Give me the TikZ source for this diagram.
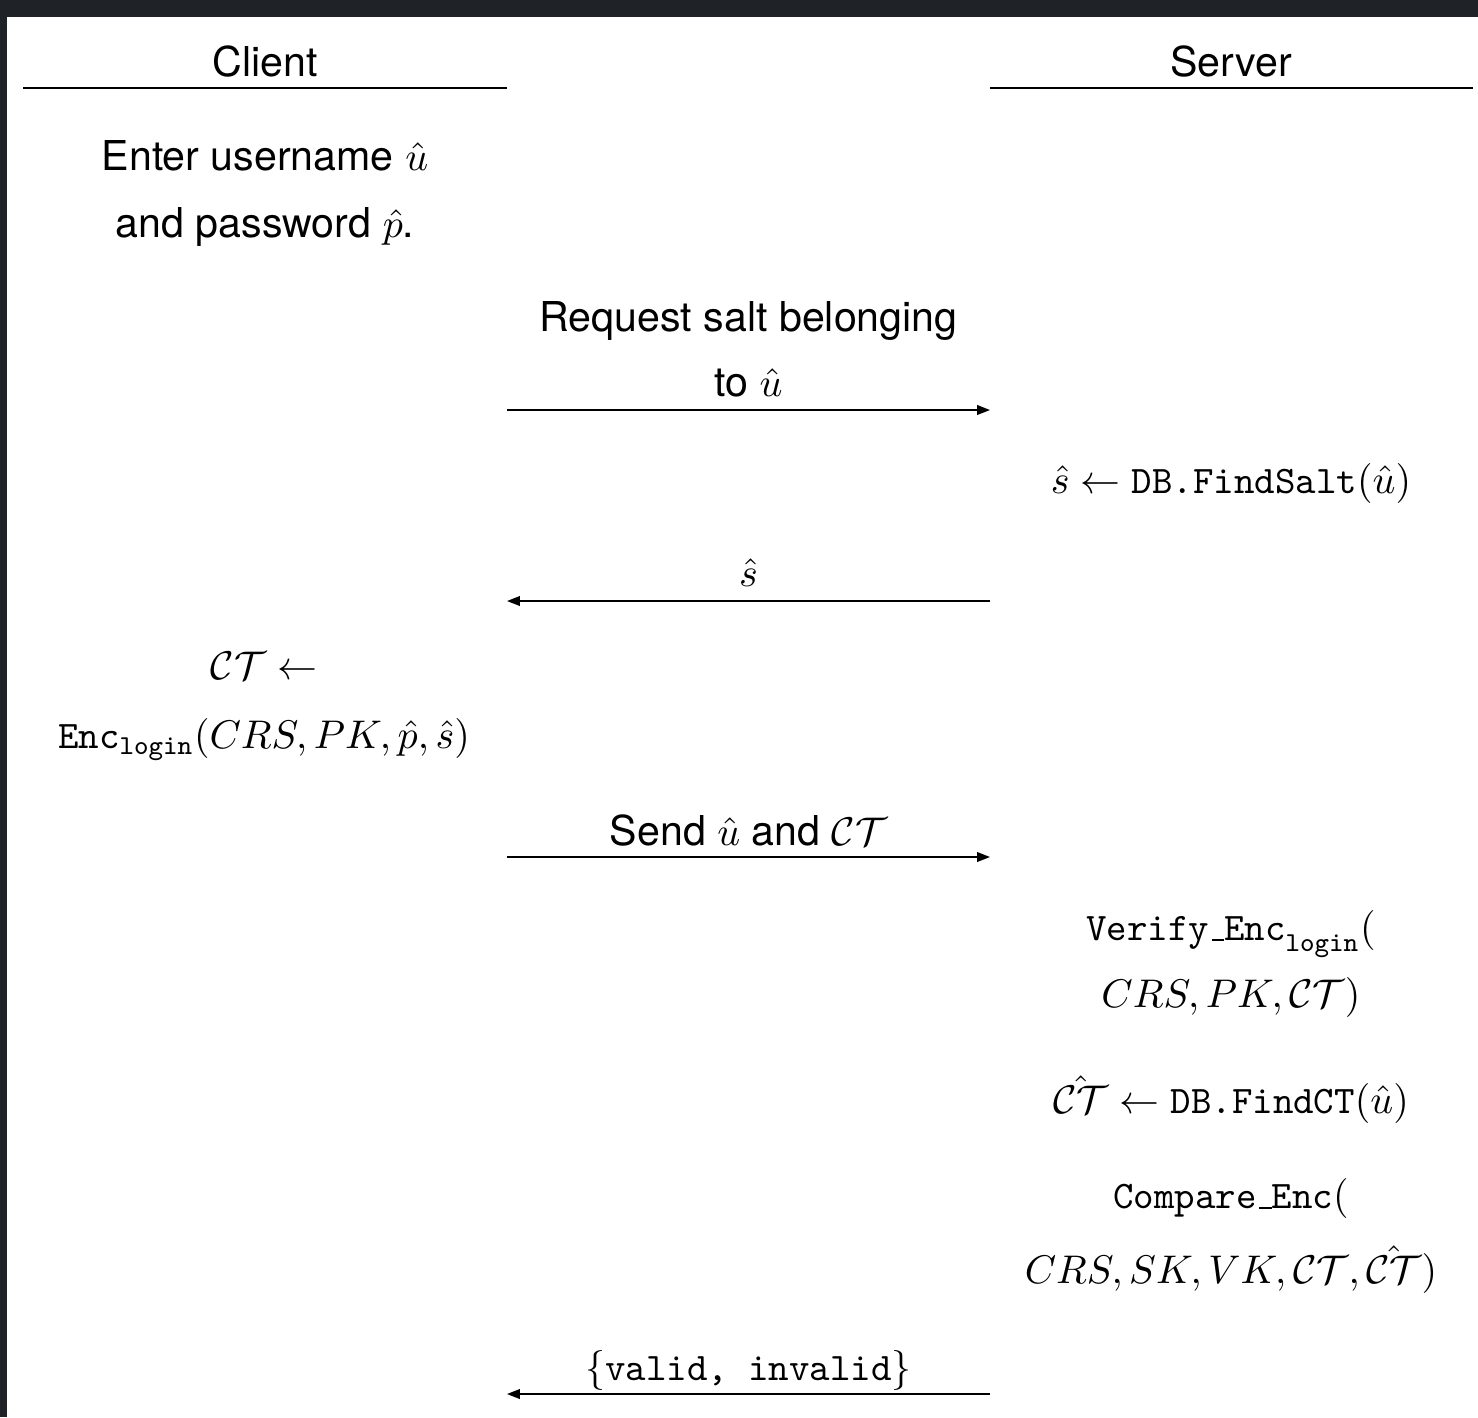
\documentclass[tikz,border=0pt]{standalone}
\usepackage{fontspec}
\setmainfont{TeX Gyre Heros}[Scale=1.055]
\usetikzlibrary{arrows.meta}
\definecolor{pageframe}{HTML}{1F2328}
\newcommand{\cipher}{\mathcal{CT}}
\newcommand{\hatcipher}{\hat{\mathcal{CT}}}
\newcommand{\lowbar}{\kern.06em\vbox{\hrule width.3em}}

\begin{document}
\begin{tikzpicture}[x=0.25pt, y=-0.25pt, thin,
  >={Triangle[length=3.2pt,width=2.4pt]},
  step node/.style={align=center, inner sep=0pt, font=\fontsize{9.75}{16.75}\selectfont},
  msg label/.style={above, inner sep=2.4pt, align=center, font=\fontsize{9.75}{16.25}\selectfont}]
% page with the dark frame at top and left
\fill[pageframe] (0,0) rectangle (1478,1417);
\fill[white] (7,17) rectangle (1478,1417);
\useasboundingbox (0,0) rectangle (1478,1417);
\begin{scope}[every node/.style={step node}]
\node (client) at (265,61) {Client};
\node (server) at (1231,61) {Server};
\node (enter) at (265,193) {Enter username $\hat{u}$\\and password $\hat{p}$.};
\node (findsalt) at (1231,483) {$\hat{s} \leftarrow \texttt{DB.FindSalt}(\hat{u})$};
\node (encrypt) at (264,706) {$\cipher \leftarrow$\\[0.5pt]$\mathtt{Enc}_{\mathtt{login}}(CRS, PK, \hat{p}, \hat{s})$};
\node (verify) at (1231,964) {$\mathtt{Verify\lowbar Enc}_{\mathtt{login}}($\\$CRS, PK, \cipher)$};
\node (findct) at (1231,1100) {$\hatcipher \leftarrow \texttt{DB.FindCT}(\hat{u})$};
\node (compare) at (1231,1236) {$\mathtt{Compare\lowbar Enc}($\\[1.8pt]$CRS, SK, VK, \cipher, \hatcipher)$};
\end{scope}
% lifeline heads and message ends
\coordinate (cl0) at (23,88);
\coordinate (cl1) at (507,88);
\coordinate (sv0) at (990,88);
\coordinate (sv1) at (1473,88);
\coordinate (c1) at (507,410);
\coordinate (s1) at (990,410);
\coordinate (c2) at (507,601);
\coordinate (s2) at (990,601);
\coordinate (c3) at (507,857);
\coordinate (s3) at (990,857);
\coordinate (c4) at (507,1394);
\coordinate (s4) at (990,1394);
\begin{scope}
\draw  (cl0) -- (cl1);
\draw  (sv0) -- (sv1);
\draw  (c1) edge[->] node[msg label,inner sep=2.9pt]{Request salt belonging\\to $\hat{u}$} (s1);
\draw  (s2) edge[->] node[msg label,inner sep=3.4pt]{$\hat{s}$} (c2);
\draw  (c3) edge[->] node[msg label,inner sep=2.6pt]{Send $\hat{u}$ and $\cipher$} (s3);
\draw  (s4) edge[->] node[msg label,inner sep=0.7pt]{$\{\texttt{valid, invalid}\}$} (c4);
\end{scope}
\end{tikzpicture}
\end{document}
